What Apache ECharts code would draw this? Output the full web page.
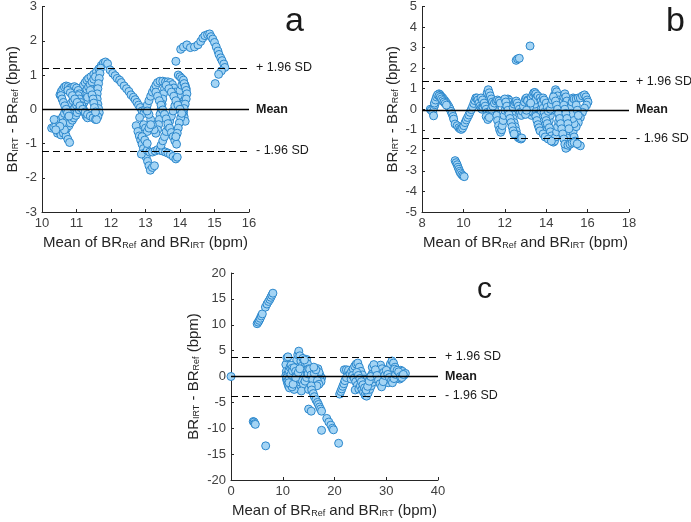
<!DOCTYPE html>
<html><head><meta charset="utf-8">
<script src="https://cdn.jsdelivr.net/npm/echarts@6/dist/echarts.min.js"></script>
<style>html,body{margin:0;padding:0;background:#fff}#c{width:691px;height:522px}</style>
</head><body><div id="c"></div>
<script>
// Panel a: [mean of BR, difference]
const pointsA = [
[10.28,-0.55],[10.34,-0.52],[10.40,-0.48],[10.44,-0.32],[10.50,-0.38],[10.55,-0.30],[10.60,-0.22],[10.65,-0.12],[10.70,-0.02],[10.75,0.05],[10.80,0.12],[10.85,0.18],[10.90,0.25],[10.95,0.32],[11.00,0.40],[11.05,0.48],[11.10,0.55],[11.15,0.62],[11.20,0.70],[11.25,0.78],[11.30,0.85],[11.35,0.90],[11.42,0.95],[11.50,1.02],[11.58,1.10],[11.65,1.18],[11.72,1.28],[11.78,1.35],[11.84,1.38],[11.90,1.33],
[10.45,-0.70],[10.50,-0.65],[10.55,-0.58],[10.60,-0.50],[10.65,-0.42],[10.70,-0.35],[10.75,-0.28],[10.80,-0.18],[10.85,-0.10],[10.90,-0.02],[10.95,0.05],[11.00,0.12],[11.05,0.20],[11.10,0.28],[11.15,0.35],[11.20,0.42],[11.25,0.50],[11.30,0.58],[11.35,0.65],[11.40,0.72],[11.45,0.80],[11.50,0.88],[11.55,0.95],
[10.55,-0.75],[10.62,-0.70],[10.68,-0.62],[10.72,-0.55],[10.78,-0.48],[10.82,-0.40],[10.88,-0.32],[10.92,-0.25],[10.98,-0.18],[11.02,-0.10],[11.08,-0.02],[11.12,0.05],[11.18,0.12],[11.22,0.20],[11.28,0.28],[11.32,0.35],
[10.70,-0.78],[10.75,-0.88],[10.80,-0.97],[10.65,-0.60],[10.60,-0.40],[10.52,-0.50],[10.40,-0.60],[10.35,-0.30],
[10.52,0.42],[10.56,0.52],[10.60,0.58],[10.65,0.65],[10.70,0.68],[10.76,0.66],[10.82,0.62],[10.88,0.64],[10.94,0.66],[11.00,0.62],[11.05,0.55],[11.08,0.45],
[10.55,0.40],[10.58,0.30],[10.62,0.20],[10.66,0.10],[10.70,0.00],[10.74,-0.10],[10.78,-0.20],
[11.05,0.40],[11.08,0.30],[11.12,0.20],[11.16,0.10],[11.20,0.00],[11.24,-0.10],[11.28,-0.20],[11.32,-0.25],
[10.75,0.55],[10.82,0.48],[10.88,0.40],[10.95,0.30],[11.02,0.20],[11.10,0.10],[11.18,0.00],[11.25,-0.08],[11.32,-0.15],[11.40,-0.20],[11.48,-0.25],[11.55,-0.30],
[11.70,1.20],[11.68,1.05],[11.66,0.90],[11.64,0.75],[11.62,0.60],[11.60,0.45],[11.60,0.30],[11.62,0.15],[11.64,0.02],[11.66,-0.10],[11.62,-0.22],[11.58,-0.30],
[11.40,0.55],[11.45,0.42],[11.48,0.30],[11.50,0.18],[11.52,0.05],[11.55,-0.08],
[11.97,1.15],[12.05,1.05],[12.12,0.98],[12.18,0.90],[12.25,0.85],[12.30,0.78],[12.38,0.68],[12.45,0.60],[12.52,0.52],[12.58,0.42],[12.65,0.35],[12.70,0.28],[12.75,0.20],[12.80,0.12],[12.85,0.05],[12.90,-0.05],[12.95,-0.12],
[13.00,0.00],[13.05,0.12],[13.10,0.25],[13.15,0.38],[13.20,0.50],[13.25,0.60],[13.30,0.70],[13.35,0.78],[13.42,0.82],[13.50,0.82],[13.58,0.80],[13.65,0.80],[13.72,0.78],[13.78,0.72],[13.82,0.62],[13.86,0.50],[13.90,0.40],[13.95,0.28],[14.00,0.15],[14.05,0.02],[14.10,-0.10],[14.12,-0.22],[14.15,-0.35],
[12.83,-0.24],[12.73,-0.48],[12.78,-0.65],[12.82,-0.78],[12.86,-0.90],[12.90,-1.02],[12.94,-1.15],[12.98,-1.28],[13.02,-1.40],[13.06,-1.52],[13.10,-1.65],[13.14,-1.78],[13.20,-1.70],[13.26,-1.65],[12.88,-1.31],
[13.05,-1.20],[13.12,-1.25],[13.20,-1.25],[13.28,-1.22],[13.35,-1.18],[13.42,-1.20],[13.50,-1.22],[13.58,-1.25],[13.65,-1.28],[13.72,-1.32],[13.80,-1.38],[13.88,-1.45],[13.92,-1.40],
[13.45,-1.05],[13.50,-0.92],[13.55,-0.80],[13.60,-0.65],[13.65,-0.50],[13.70,-0.35],[13.75,-0.20],[13.80,-0.05],[13.85,0.10],[13.90,0.25],[13.95,0.40],[14.00,0.55],[14.05,0.70],[14.10,0.80],[14.15,0.70],[14.18,0.60],
[13.55,0.60],[13.52,0.45],[13.50,0.30],[13.48,0.15],[13.45,0.00],[13.42,-0.15],[13.40,-0.30],[13.38,-0.45],[13.35,-0.60],[13.30,-0.70],[13.25,-0.60],[13.20,-0.45],[13.15,-0.30],[13.10,-0.15],[13.05,-0.05],
[13.30,0.50],[13.35,0.38],[13.40,0.25],[13.45,0.12],[13.50,-0.02],[13.55,-0.15],[13.60,-0.28],[13.65,-0.42],[13.70,-0.55],[13.75,-0.68],[13.80,-0.80],[13.85,-0.92],[13.90,-1.02],
[13.95,1.00],[14.00,0.95],[14.05,0.90],[14.10,0.85],[14.12,0.75],[14.15,0.65],[14.18,0.55],[14.20,0.45],[14.18,0.30],[14.15,0.15],[14.12,0.02],[14.08,-0.10],[14.02,-0.25],[13.98,-0.40],[13.95,-0.55],[13.92,-0.70],[13.88,-0.80],
[13.60,0.70],[13.68,0.60],[13.75,0.50],[13.82,0.38],[13.88,0.25],[13.94,0.12],[14.00,0.00],[14.05,-0.12],
[12.95,-0.45],[13.00,-0.55],[13.05,-0.65],[13.10,-0.55],[13.15,-0.45],[12.90,-0.80],[12.98,-0.90],[13.05,-1.00],
[13.88,1.40],[14.02,1.75],[14.10,1.82],[14.20,1.88],[14.30,1.80],[14.42,1.82],[14.52,1.88],[14.60,1.98],[14.66,2.08],[14.72,2.15],[14.80,2.18],[14.86,2.20],[14.90,2.12],[14.95,2.05],[15.00,1.95],[15.05,1.82],[15.10,1.70],[15.13,1.60],[15.18,1.50],[15.22,1.42],[15.27,1.32],[15.30,1.22],[15.20,1.12],[15.12,1.02],[15.02,0.75]
];
// Panel b
const pointsB = [
[8.40,0.00],[8.45,-0.05],[8.52,-0.15],[8.56,-0.32],[8.58,0.10],[8.62,0.22],[8.66,0.35],[8.70,0.48],[8.74,0.58],[8.78,0.68],[8.82,0.75],[8.86,0.72],[8.90,0.65],[8.95,0.60],[9.00,0.55],[9.05,0.48],[9.10,0.42],[9.15,0.35],[9.20,0.28],[9.25,0.20],[9.30,0.12],[9.35,0.02],[9.40,-0.10],[9.45,-0.22],[9.50,-0.35],[9.53,-0.48],[9.60,-0.72],[9.70,-0.80],[9.78,-0.90],[9.85,-0.96],[9.90,-0.98],[9.96,-0.92],[10.02,-0.80],[10.08,-0.65],[10.14,-0.52],[10.20,-0.40],[10.26,-0.28],[10.32,-0.15],[10.38,-0.02],[10.44,0.12],[10.50,0.28],[10.55,0.42],[10.60,0.55],[10.66,0.55],
[8.60,0.30],[8.65,0.45],[8.70,0.60],[8.75,0.70],[8.82,0.65],[8.88,0.58],[8.94,0.50],[9.00,0.42],[9.06,0.35],[9.12,0.28],[9.18,0.20],
[10.70,0.45],[10.75,0.30],[10.80,0.15],[10.85,0.05],[10.90,0.00],[10.95,0.10],[11.00,0.25],[11.05,0.45],[11.10,0.62],[11.15,0.80],[11.20,0.95],[11.25,0.80],[11.30,0.65],[11.35,0.50],[11.40,0.35],[11.45,0.20],[11.50,0.05],[11.55,-0.10],[11.60,-0.30],[11.65,-0.55],[11.70,-0.80],[11.75,-1.00],[11.80,-1.12],[11.85,-1.00],[11.88,-0.80],[11.92,-0.55],[11.96,-0.30],[12.00,-0.05],[12.05,0.20],[12.10,0.40],[12.15,0.50],[12.20,0.45],
[10.85,0.55],[10.92,0.45],[11.00,0.30],[11.05,0.15],[11.10,0.00],[11.15,-0.15],[11.20,-0.25],[11.28,-0.15],[11.35,0.00],[11.42,0.15],[11.50,0.30],[11.58,0.40],[11.65,0.45],[11.72,0.40],[11.78,0.30],[11.10,-0.35],[11.18,-0.50],[11.25,-0.40],
[12.20,0.35],[12.25,0.15],[12.30,-0.05],[12.35,-0.25],[12.40,-0.45],[12.45,-0.65],[12.50,-0.85],[12.55,-1.05],[12.60,-1.25],[12.65,-1.38],[12.72,-1.42],[12.78,-1.45],[12.82,-1.40],
[12.00,0.50],[12.05,0.35],[12.10,0.15],[12.15,-0.05],[12.20,-0.25],[12.25,-0.45],[12.30,-0.65],[12.35,-0.85],[12.40,-1.05],[12.45,-1.20],
[12.40,0.10],[12.45,0.25],[12.50,0.35],[12.55,0.40],[12.60,0.30],[12.65,0.15],[12.70,0.00],[12.75,-0.15],[12.80,-0.30],
[12.85,-0.10],[12.90,0.15],[12.95,0.35],[13.00,0.50],[13.05,0.55],[13.10,0.45],
[12.55,2.38],[12.62,2.45],[12.70,2.48],[13.22,3.08],
[9.60,-2.50],[9.65,-2.60],[9.70,-2.70],[9.74,-2.82],[9.78,-2.92],[9.82,-3.02],[9.86,-3.10],[9.92,-3.18],[9.98,-3.24],[10.04,-3.28],
[13.10,0.40],[13.20,0.25],[13.28,0.55],[13.35,0.70],[13.40,0.80],[13.45,0.82],[13.50,0.75],[13.55,0.60],[13.60,0.40],[13.65,0.20],[13.70,0.00],[13.75,-0.20],[13.80,-0.40],[13.85,-0.60],[13.90,-0.80],[13.95,-1.00],[14.00,-1.15],[14.05,-1.00],[14.10,-0.80],[14.15,-0.55],[14.20,-0.30],[14.25,-0.05],[14.30,0.20],[14.35,0.45],[14.40,0.70],[14.45,0.95],[14.50,0.85],[14.55,0.65],[14.60,0.45],[14.65,0.25],[14.70,0.05],[14.75,-0.15],[14.80,-0.40],[14.85,-0.65],[14.90,-0.90],[14.95,-1.15],[15.00,-1.40],[15.05,-1.60],[15.02,-1.85],[14.95,-1.90],
[13.30,-0.30],[13.35,-0.15],[13.40,0.05],[13.45,0.25],[13.50,0.45],[13.60,0.65],[13.70,0.55],[13.75,0.40],[13.80,0.25],[13.85,0.05],[13.90,-0.15],[13.95,-0.35],[14.00,-0.55],[14.05,-0.70],[14.15,-0.90],[14.20,-1.10],[14.25,-1.30],[14.30,-1.50],[14.35,-1.60],[14.40,-1.55],[14.45,-1.35],[14.50,-1.10],[14.55,-0.85],[14.60,-0.60],[14.65,-0.35],[14.70,-0.10],[14.75,0.15],[14.80,0.40],[14.85,0.60],[14.90,0.75],[14.95,0.60],[15.00,0.40],[15.05,0.15],[15.10,-0.10],[15.15,-0.35],[15.20,-0.60],[15.25,-0.85],[15.30,-1.10],[15.35,-1.35],[15.40,-1.55],[15.45,-1.65],[15.55,-1.72],[15.65,-1.78],
[13.15,-0.10],[13.20,0.10],[13.25,0.30],[13.85,0.55],[13.90,0.45],[14.00,0.30],[14.05,0.10],[14.10,-0.10],[14.20,0.00],[14.25,0.25],[14.30,0.45],[14.35,0.60],[14.45,0.40],[14.50,0.20],[14.55,0.00],[14.60,-0.20],[14.65,-0.45],[14.70,-0.70],[14.75,-0.95],[14.80,-1.20],[14.85,-1.45],[14.90,-1.70],[15.10,-0.50],[15.15,-0.20],[15.20,0.10],[15.25,0.35],[15.30,0.55],[15.35,0.50],[15.45,0.50],[15.55,0.55],[15.65,0.55],[15.75,0.65],[15.85,0.70],[15.92,0.60],[15.98,0.45],[16.02,0.35],[15.95,0.20],[15.85,0.05],[15.75,-0.15],[15.65,-0.40],[15.55,-0.65],[15.45,-0.85],[15.35,-0.70],[15.28,-0.45],[15.22,-0.20],
[15.05,-1.75],[15.15,-1.70],[15.25,-1.65],[15.35,-1.62],[15.50,-1.68],[13.00,-0.25],[13.05,-0.05],[13.50,-0.35],[13.55,-0.55],[13.60,-0.75],[13.65,-0.90],[13.70,-1.05],[13.85,-1.20],[13.95,-1.35],[14.10,-1.45],[14.25,-1.55],[14.85,0.20],[14.90,0.00],[14.95,-0.20],[15.00,-0.45],[15.05,-0.70],[15.10,-0.95],[15.45,0.20],[15.50,-0.05],[15.55,-0.30]
];
// Panel c
const pointsC = [
[0.0,0.0],
[5.05,10.20],[5.25,10.50],[5.45,10.85],[5.65,11.25],[5.85,11.70],[6.05,12.10],[6.65,13.40],[6.95,14.00],[7.25,14.50],[7.50,14.90],[7.70,15.30],[7.90,15.70],[8.10,16.10],
[4.30,-8.70],[4.45,-8.80],[4.60,-9.10],[4.70,-9.25],[6.70,-13.40],
[10.6,2.3],[10.8,3.6],[11.0,3.8],[10.7,1.0],[10.6,0.2],[10.7,-0.5],[10.9,-1.2],[11.1,-1.8],[11.3,-2.2],[11.5,-1.5],[11.7,-0.8],[11.9,0.0],[12.1,0.8],[12.3,1.5],[12.5,2.3],[12.7,3.2],[12.9,4.2],[13.1,4.9],[13.3,4.0],[13.5,3.0],[13.7,2.0],[13.9,1.0],[14.1,0.2],[14.3,-0.6],[14.5,-1.3],[14.7,-2.0],[14.9,-1.2],[15.1,-0.4],[15.3,0.4],[15.5,1.2],[15.7,0.8],[15.9,0.2],[16.1,-0.5],[16.3,-1.0],[16.5,-0.4],[16.7,0.3],[16.9,0.9],[17.1,0.5],[17.3,0.0],[17.5,-0.3],
[11.0,0.5],[11.2,1.2],[11.4,1.8],[11.6,2.2],[11.8,1.6],[12.0,1.0],[12.2,0.3],[12.4,-0.4],[12.6,-1.1],[12.8,-1.8],[13.0,-2.4],[13.2,-1.8],[13.4,-1.1],[13.6,-0.4],[13.8,0.3],[14.0,1.0],[14.2,1.7],[14.4,2.5],[14.6,3.3],[14.8,2.4],[15.0,1.5],[15.2,0.6],[15.4,-0.3],[15.6,-1.2],[15.8,-2.0],[16.0,-1.4],[16.2,-0.6],[16.4,0.3],[16.6,1.1],[16.8,1.5],[17.0,0.8],[17.2,-0.5],[17.4,-1.0],
[10.8,-0.2],[11.0,-0.8],[11.3,-0.3],[11.6,0.4],[11.9,1.1],[12.2,1.7],[12.5,1.0],[12.8,0.3],[13.1,-0.4],[13.4,0.3],[13.7,-0.8],[14.0,-1.5],[14.3,-0.9],[14.6,-0.2],[14.9,0.5],[15.2,1.4],[15.5,0.3],[15.8,-0.6],[16.1,0.6],[16.4,1.3],[16.7,-0.8],[17.0,-1.5],[13.6,-2.8],[12.2,-2.5],[11.8,-2.0],[15.0,-2.5],[13.9,3.5],[14.2,3.2],[11.2,-1.2],[12.0,-1.5],[16.0,1.8],[16.6,-1.8],[12.5,-0.2],[13.0,0.8],[13.3,1.5],[15.5,-1.8],
[15.6,-2.6],[15.9,-3.3],[16.1,-3.9],[16.4,-4.5],[16.7,-5.0],[16.9,-5.4],[17.1,-5.9],[17.3,-6.3],[17.5,-6.7],
[15.0,-6.3],[15.5,-6.7],[17.5,-10.4],
[18.5,-8.1],[18.9,-8.8],[19.3,-9.4],[19.6,-10.0],[19.8,-10.3],[20.8,-12.9],
[21.0,-3.4],[21.2,-2.9],[21.4,-2.4],[21.6,-1.9],[21.8,-1.4],[22.0,-0.8],[22.3,-0.2],[21.9,1.3],[22.3,1.3],[22.7,1.2],
[23.0,0.5],[23.3,1.0],[23.6,1.5],[23.9,2.0],[24.2,2.4],[24.5,2.6],[24.8,1.8],[25.1,1.0],[25.4,0.3],[25.7,-0.5],[26.0,-1.3],[26.3,-2.0],[26.6,-1.2],[26.9,-0.4],[27.2,0.4],[27.5,1.2],[27.8,2.0],[28.1,1.6],[28.4,0.8],[28.7,0.0],[29.0,-0.8],[29.3,-1.5],[29.6,-0.8],[29.9,0.0],[30.2,0.8],[30.5,1.6],[30.8,2.4],[31.1,3.0],[31.4,2.6],[31.7,1.8],[32.0,1.0],[32.3,0.2],[32.6,-0.5],[32.9,0.2],[33.2,0.8],[33.5,0.5],
[23.2,-0.5],[23.5,0.2],[23.8,-0.3],[24.1,-1.0],[24.4,-1.7],[24.0,-2.6],[24.7,-2.4],[25.0,-1.8],[25.3,-2.5],[25.6,-3.0],[25.9,-3.6],[26.2,-3.8],[26.5,-3.2],[26.8,-2.5],[27.1,-1.8],[27.4,-1.1],[27.7,-0.4],[28.0,0.4],[28.3,1.2],[28.6,1.8],[28.9,2.2],[29.2,1.5],[29.5,0.8],[29.8,0.2],[30.1,-0.5],[30.4,-1.2],[30.7,-0.6],[31.0,0.2],[31.3,0.9],[31.6,1.4],[31.9,0.5],[32.2,-0.3],[32.5,0.6],[32.8,1.2],[33.1,1.0],[33.4,0.2],[33.7,0.6],
[24.3,0.8],[24.6,0.2],[24.9,-0.4],[25.2,-1.0],[25.5,-1.6],[25.8,-2.2],[26.1,-2.6],[26.4,-1.9],[26.7,-0.9],[27.0,0.0],[27.3,1.8],[27.6,2.3],[27.9,1.3],[28.2,0.2],[28.5,-0.7],[28.8,-1.4],[29.1,-2.0],[29.4,-1.0],[29.7,0.2],[30.0,1.2],[30.3,0.4],[30.6,-0.2],[31.0,-0.8],[31.2,-1.2],[31.5,-0.4],[31.8,0.4],[32.1,1.2],[32.4,0.9],[32.7,0.0],[33.0,-0.2],[33.3,0.4]
];
// [+1.96 SD, mean, -1.96 SD]
const limitsA = [1.21, 0.0, -1.22];
const limitsB = [1.35, -0.03, -1.42];
const limitsC = [3.8, 0.0, -3.74];
const lineLabels = ['+ 1.96 SD', 'Mean', '- 1.96 SD'];
const panelLetters = ['a', 'b', 'c'];
const xRanges = [[10, 16, 1], [8, 18, 2], [0, 40, 10]];
const yRanges = [[-3, 3, 1], [-5, 5, 1], [-20, 20, 5]];

const FONT = "'Liberation Sans', Arial, Helvetica, sans-serif";
const chart = echarts.init(document.getElementById('c'), null, {renderer: 'canvas'});
const grids = [
  {left: 42, top: 5, width: 207, height: 207},
  {left: 422, top: 5, width: 207, height: 207},
  {left: 231, top: 273, width: 207, height: 207}
];
const rich = {
  n: {fontSize: 15, color: '#262626', fontFamily: FONT, lineHeight: 18, verticalAlign: 'bottom'},
  s: {fontSize: 9, color: '#262626', fontFamily: FONT, lineHeight: 14, verticalAlign: 'bottom', padding: [5, 0, 0, 0]}
};
const xName = '{n|Mean of BR}{s|Ref}{n| and BR}{s|IRT}{n| (bpm)}';
const yName = '{n|BR}{s|IRT}{n| - BR}{s|Ref}{n| (bpm)}';
const axisCommon = {
  axisLine: {show: true, onZero: false, lineStyle: {color: '#262626', width: 1}},
  axisTick: {show: true, inside: true, length: 3, lineStyle: {color: '#262626'}},
  axisLabel: {color: '#404040', fontSize: 13, fontFamily: FONT, margin: 5},
  splitLine: {show: false},
  nameLocation: 'middle',
  nameTextStyle: {rich: rich}
};
const xAxes = xRanges.map((r, i) => Object.assign({}, axisCommon, {
  type: 'value', gridIndex: i, min: r[0], max: r[1], interval: r[2], name: xName, nameGap: 20
}));
const yAxes = yRanges.map((r, i) => Object.assign({}, axisCommon, {
  type: 'value', gridIndex: i, min: r[0], max: r[1], interval: r[2], name: yName,
  nameGap: i === 2 ? 30 : 22, nameRotate: 90
}));
function mk(limits) {
  return {
    silent: true, symbol: 'none', animation: false,
    data: limits.map((v, k) => ({
      yAxis: v,
      lineStyle: {color: '#000', width: k === 1 ? 1.4 : 1.2, type: k === 1 ? 'solid' : [7, 4]},
      label: {show: true, position: 'end', distance: 7, formatter: lineLabels[k],
        color: '#1a1a1a', fontSize: 12.5, fontFamily: FONT, fontWeight: k === 1 ? 'bold' : 'normal'}
    }))
  };
}
const allPoints = [pointsA, pointsB, pointsC];
const allLimits = [limitsA, limitsB, limitsC];
const series = allPoints.map((pts, i) => ({
  type: 'scatter', xAxisIndex: i, yAxisIndex: i, data: pts, symbolSize: 8,
  itemStyle: {color: '#a4d4f4', borderColor: '#2b87cc', borderWidth: 1, opacity: 1},
  markLine: mk(allLimits[i]), animation: false
}));
const letterPos = [{left: 285, top: 5, size: 34}, {left: 666, top: 5, size: 34}, {left: 477, top: 275, size: 30}];
chart.setOption({
  backgroundColor: '#fff',
  animation: false,
  grid: grids,
  xAxis: xAxes,
  yAxis: yAxes,
  series: series,
  graphic: panelLetters.map((t, i) => ({
    type: 'text', left: letterPos[i].left, top: letterPos[i].top,
    style: {text: t, fontSize: letterPos[i].size, fontFamily: FONT, fill: '#1a1a1a'}
  }))
});
</script></body></html>
